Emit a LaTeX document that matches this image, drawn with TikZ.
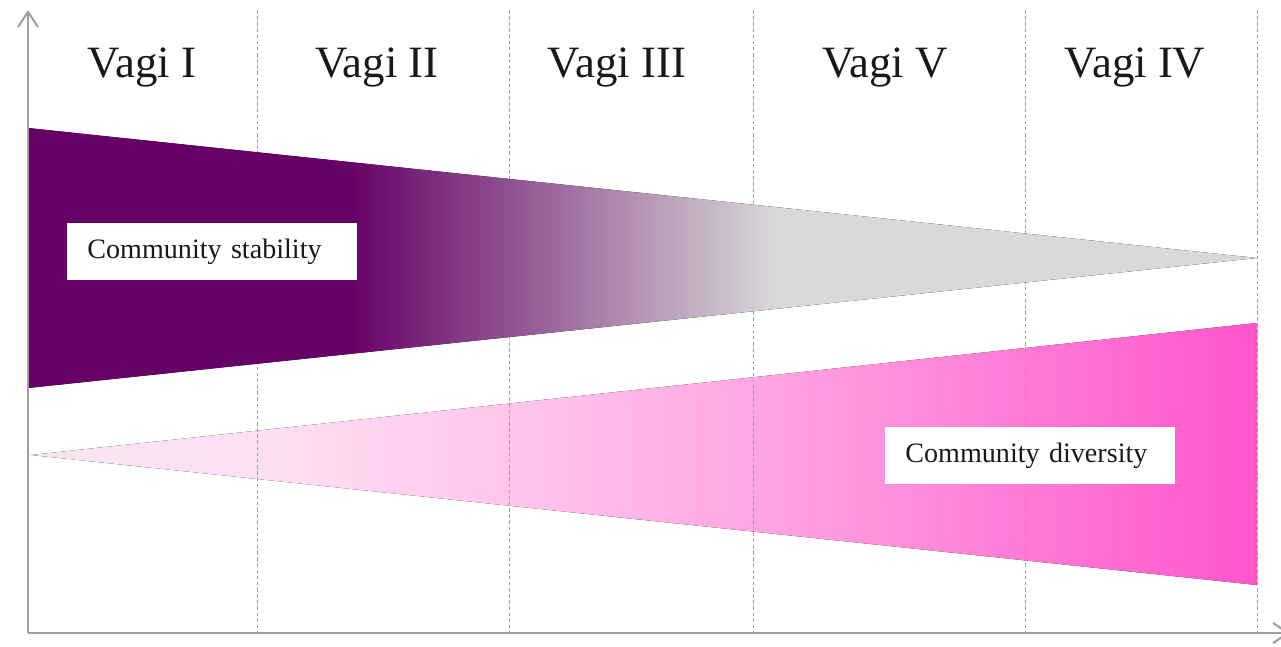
\documentclass[tikz,border=0pt]{standalone}
\usepackage{fontspec}
\setmainfont{Liberation Serif}
\usetikzlibrary{arrows.meta,positioning}
\tikzset{>={Straight Barb[length=0.3cm,width=0.4cm]}}
\definecolor{stabpurple}{HTML}{660066}
\definecolor{stabgrey}{HTML}{D9D9D9}
\definecolor{divpinka}{HTML}{F6E6F2}
\definecolor{divpinkb}{HTML}{FDE0F3}
\definecolor{divpinkc}{HTML}{FFC6EC}
\definecolor{divpinkd}{HTML}{FFA6E3}
\definecolor{divpink}{HTML}{FF55CC}
\definecolor{axisgrey}{HTML}{A0A0A0}
\pgfdeclarehorizontalshading{stabshade}{100bp}{color(0bp)=(stabpurple); color(38bp)=(stabpurple); color(55.5bp)=(stabgrey); color(100bp)=(stabgrey)}
\pgfdeclarehorizontalshading{divshade}{100bp}{color(0bp)=(divpinka); color(25bp)=(divpinka); color(34.2bp)=(divpinkb); color(44.5bp)=(divpinkc); color(54.5bp)=(divpinkd); color(75bp)=(divpink); color(100bp)=(divpink)}
\tikzset{
  stagebox/.style={anchor=base,font=\fontsize{25.5}{30}\selectfont,text=black!90},
  tagbox/.style={anchor=west,fill=white,inner xsep=0.4cm,text width=5cm,align=left,minimum height=1.13cm,font=\fontsize{16}{19}\selectfont,text=black!90},
  sepline/.style={axisgrey,dash pattern=on 2pt off 1.5pt,line width=0.5pt},
  axisline/.style={axisgrey,line width=1.2pt}
}
\begin{document}
\begin{tikzpicture}[x=0.02cm,y=-0.02cm]
\useasboundingbox (0,0) rectangle (1281,646);
\coordinate (O) at (28,633);
\coordinate (ytop) at (28,10);
\coordinate (xend) at (1290,633);
% diversity wedge
\fill[shading=divshade] (31,455) -- (1257,323) -- (1257,585) -- cycle;
% stage separators
\foreach \sx in {257,509,753,1025,1257}
  \draw[sepline] (\sx,10) -- (\sx,633);
% stability wedge
\fill[shading=stabshade] (28,128) -- (1257,258) -- (28,388) -- cycle;
% axes
\draw[axisline,->] (O) -- (ytop);
\draw[axisline,->] (O) -- (xend);
% stage names
\node[stagebox] (s1) at (142,77) {Vagi I};
\node[stagebox] (s2) at (377,77) {Vagi II};
\node[stagebox] (s3) at (617,77) {Vagi III};
\node[stagebox] (s5) at (885,77) {Vagi V};
\node[stagebox] (s4) at (1135,77) {Vagi IV};
% labels
\node[tagbox] (stab) at (67,251.5) {Community stability};
\node[tagbox] (div) at (885,455.5) {Community diversity};
\end{tikzpicture}
\end{document}
